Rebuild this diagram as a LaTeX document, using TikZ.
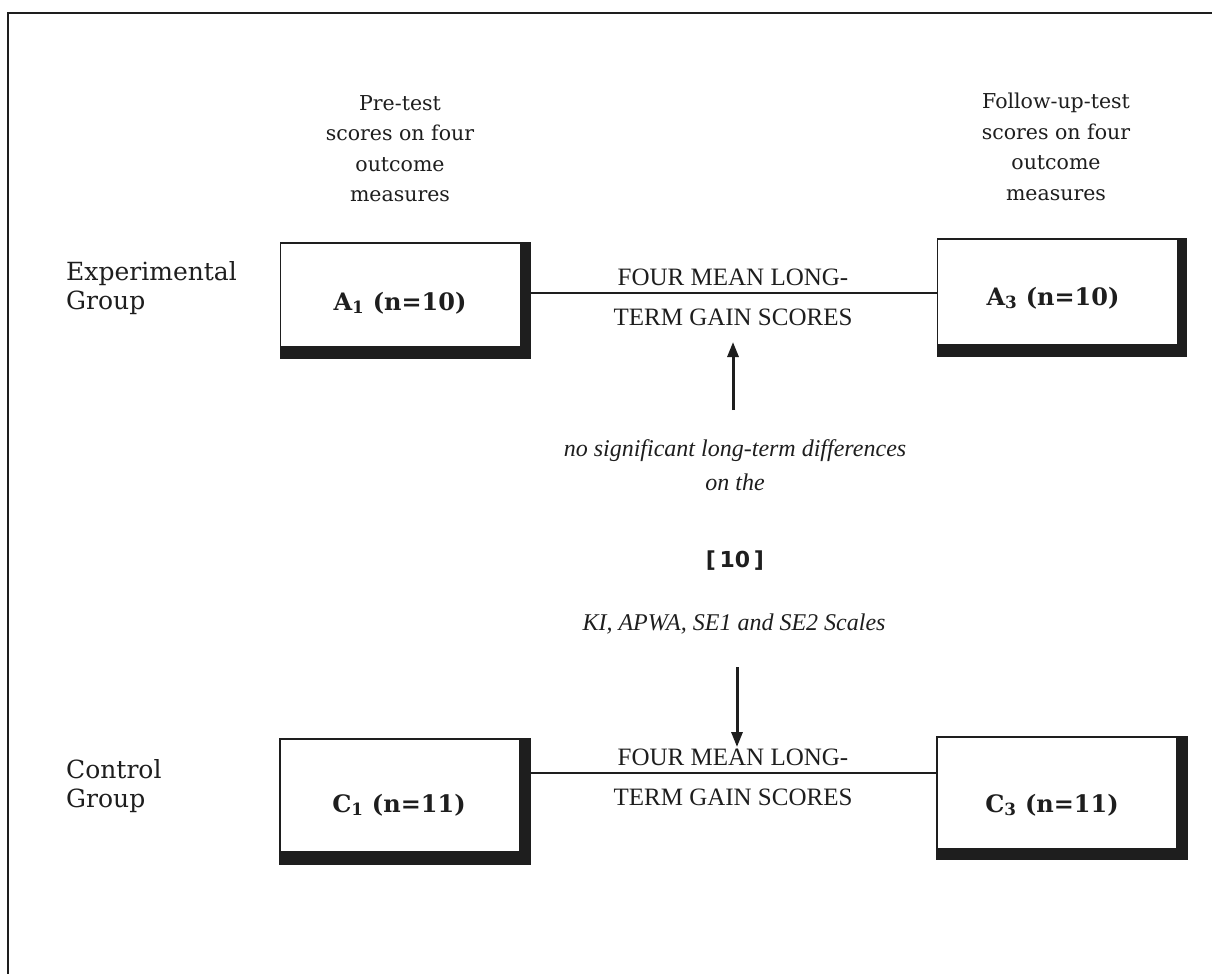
\documentclass[tikz,border=0pt]{standalone}
\usepackage{fontspec}
\setmainfont{DejaVu Serif}
\newfontfamily\palf{Liberation Serif}
\newfontfamily\sansf{DejaVu Sans}
\usetikzlibrary{arrows.meta}
\definecolor{ink}{HTML}{1E1E1E}
\tikzset{
  boxst/.style={draw=ink, line width=1.2pt, fill=white, minimum width=240pt, inner sep=0pt},
  boxtext/.style={anchor=base, inner sep=0pt, text=ink, font=\bfseries\fontsize{24}{28}\selectfont},
  toplabel/.style={anchor=north, inner sep=0pt, align=center, text=ink, font=\fontsize{20.5}{30.5}\selectfont},
  sidelabel/.style={anchor=north west, inner sep=0pt, align=left, text=ink, font=\fontsize{25}{29.5}\selectfont},
  gaintext/.style={anchor=base, inner sep=0pt, text=ink, font=\palf\fontsize{25}{28}\selectfont},
  notetext/.style={anchor=base, inner sep=0pt, text=ink, font=\palf\itshape\fontsize{24}{28}\selectfont},
  reftext/.style={anchor=base, inner sep=0pt, text=ink, font=\sansf\bfseries\fontsize{22}{26}\selectfont},
  link/.style={draw=ink, line width=2pt},
  arr/.style={draw=ink, line width=3pt, -{Triangle[length=15pt,width=11pt]}},
  shadow/.style={fill=ink}
}
\begin{document}
\begin{tikzpicture}[x=1pt,y=-1pt]
\useasboundingbox[fill=white] (0,0) rectangle (1212,974);
% frame
\draw[ink, line width=2pt] (1212,13) -- (8,13) -- (8,974);

% boxes
\node[boxst, minimum height=104pt] (A1) at (400.5,295) {};
\fill[shadow] ([xshift=-1pt]A1.north east) rectangle ([xshift=10pt,yshift=-11pt]A1.south east);
\fill[shadow] (A1.south west) rectangle ([xshift=10pt,yshift=-11pt]A1.south east);
\node[boxtext] (A1t) at (400,310) {A\textsubscript{1} (n=10)};

\node[boxst, minimum height=106pt] (A3) at (1057.5,292) {};
\fill[shadow] ([xshift=-1pt]A3.north east) rectangle ([xshift=9pt,yshift=-11pt]A3.south east);
\fill[shadow] (A3.south west) rectangle ([xshift=9pt,yshift=-11pt]A3.south east);
\node[boxtext] (A3t) at (1053,305) {A\textsubscript{3} (n=10)};

\node[boxst, minimum height=113pt] (C1) at (400,795.5) {};
\fill[shadow] ([xshift=-1pt]C1.north east) rectangle ([xshift=10pt,yshift=-12pt]C1.south east);
\fill[shadow] (C1.south west) rectangle ([xshift=10pt,yshift=-12pt]C1.south east);
\node[boxtext] (C1t) at (399,812) {C\textsubscript{1} (n=11)};

\node[boxst, minimum height=112pt] (C3) at (1057,793) {};
\fill[shadow] ([xshift=-1pt]C3.north east) rectangle ([xshift=10pt,yshift=-10pt]C3.south east);
\fill[shadow] (C3.south west) rectangle ([xshift=10pt,yshift=-10pt]C3.south east);
\node[boxtext] (C3t) at (1052,812) {C\textsubscript{3} (n=11)};

% connecting lines
\coordinate (la) at (733,293);
\coordinate (lc) at (733,773);
\coordinate (A1r) at ([xshift=10pt]A1.east);
\coordinate (C1r) at ([xshift=10pt]C1.east);
\draw[link] (A1r |- la) -- (A3.west |- la);
\draw[link] (C1r |- lc) -- (C3.west |- lc);

% column labels
\node[toplabel] (pre) at (400,95) {Pre-test\\scores on four\\outcome\\measures};
\node[toplabel] (fol) at (1056,93) {Follow-up-test\\scores on four\\outcome\\measures};

% row labels
\node[sidelabel] (exp) at (66,261) {Experimental\\Group};
\node[sidelabel] (con) at (66,759) {Control\\Group};

% gain scores
\node[gaintext] (gA1) at (733,285) {FOUR MEAN LONG-};
\node[gaintext] (gA2) at (733,325) {TERM GAIN SCORES};
\node[gaintext] (gC1) at (733,765) {FOUR MEAN LONG-};
\node[gaintext] (gC2) at (733,805) {TERM GAIN SCORES};

% central note
\node[notetext] (n1) at (735,456) {no significant long-term differences};
\node[notetext] (n2) at (735,490) {on the};
\node[reftext] (ref) at (735,567) {[\,10\,]};
\node[notetext] (sc) at (734,630) {KI, APWA, SE1 and SE2 Scales};

% arrows
\coordinate (upS) at (733,410);
\coordinate (upE) at (733,342);
\coordinate (dnS) at (737,667);
\coordinate (dnE) at (737,747);
\draw[arr] (upS) -- (upE);
\draw[arr] (dnS) -- (dnE);
\end{tikzpicture}
\end{document}
